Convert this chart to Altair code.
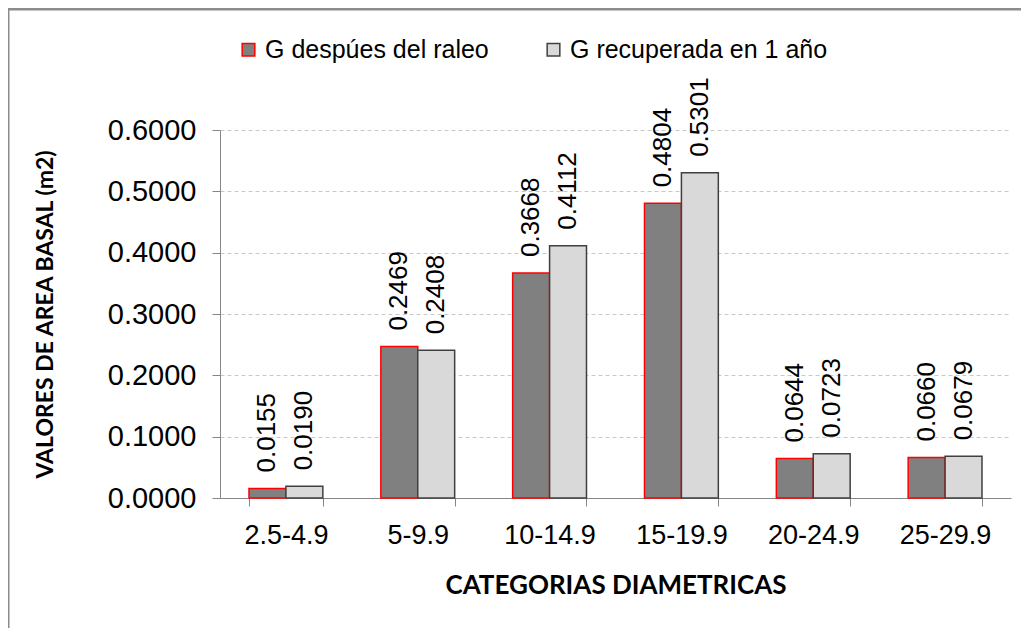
import altair as alt
import pandas as pd

categories = ["2.5-4.9", "5-9.9", "10-14.9", "15-19.9", "20-24.9", "25-29.9"]
series_names = ["G despúes del raleo", "G recuperada en 1 año"]
g_despues = [0.0155, 0.2469, 0.3668, 0.4804, 0.0644, 0.0660]
g_recuperada = [0.0190, 0.2408, 0.4112, 0.5301, 0.0723, 0.0679]

rows = []
for c, a, b in zip(categories, g_despues, g_recuperada):
    rows.append({"cat": c, "serie": series_names[0], "valor": a})
    rows.append({"cat": c, "serie": series_names[1], "valor": b})
df = pd.DataFrame(rows)

FONT = "Liberation Sans"

x_enc = alt.X(
    "cat:N",
    sort=categories,
    scale=alt.Scale(paddingInner=0.44, paddingOuter=0.22),
    axis=alt.Axis(
        title="CATEGORIAS DIAMETRICAS",
        labelAngle=0,
        labelFont=FONT,
        labelFontSize=27,
        labelColor="#000000",
        labelPadding=16,
        tickBand="extent",
        tickSize=8,
        tickColor="#868686",
        domainColor="#868686",
        titleFont="Lato",
        titleFontWeight="bold",
        titleFontSize=26,
        titleColor="#000000",
        titlePadding=24,
    ),
)

y_enc = alt.Y(
    "valor:Q",
    scale=alt.Scale(domain=[0, 0.6], nice=False),
    axis=alt.Axis(
        title="VALORES DE AREA BASAL (m2)",
        values=[0, 0.1, 0.2, 0.3, 0.4, 0.5, 0.6],
        format=".4f",
        labelFont=FONT,
        labelFontSize=29,
        labelColor="#000000",
        labelPadding=16,
        tickSize=8,
        tickColor="#868686",
        domainColor="#868686",
        grid=True,
        gridColor="#c8c8c8",
        gridDash=[4, 3],
        titleFont="Lato",
        titleFontWeight="bold",
        titleFontSize=23,
        titleColor="#000000",
        titlePadding=50,
    ),
)

bars = alt.Chart(df).mark_bar(strokeWidth=1.5).encode(
    x=x_enc,
    xOffset=alt.XOffset("serie:N", sort=series_names),
    y=y_enc,
    fill=alt.Fill(
        "serie:N",
        sort=series_names,
        scale=alt.Scale(domain=series_names, range=["#808080", "#d9d9d9"]),
        legend=alt.Legend(title=None),
    ),
    stroke=alt.Stroke(
        "serie:N",
        sort=series_names,
        scale=alt.Scale(domain=series_names, range=["#ff0000", "#404040"]),
        legend=alt.Legend(title=None),
    ),
)

labels = alt.Chart(df).mark_text(
    angle=270, align="left", baseline="middle", dx=16,
    font=FONT, fontSize=26, color="#000000",
).encode(
    x=alt.X("cat:N", sort=categories),
    xOffset=alt.XOffset("serie:N", sort=series_names),
    y=alt.Y("valor:Q"),
    text=alt.Text("valor:Q", format=".4f"),
)

frame = alt.Chart(pd.DataFrame({"k": [0]})).mark_rect(
    fill="transparent", stroke="#8c8c8c", strokeWidth=3, clip=False
).encode(
    x=alt.value(-212), x2=alt.value(900),
    y=alt.value(-121), y2=alt.value(600),
)

chart = alt.layer(bars, labels, frame).properties(
    width=791, height=368,
    padding={"left": 212, "top": 122, "right": 10, "bottom": 130},
    autosize=alt.AutoSizeParams(type="none"),
    background="#ffffff",
).configure_view(stroke=None).configure_legend(
    orient="none",
    legendX=16,
    legendY=-93,
    direction="horizontal",
    symbolType="square",
    symbolSize=160,
    symbolStrokeWidth=1.5,
    labelFont=FONT,
    labelFontSize=25,
    labelColor="#000000",
    labelLimit=0,
    columnPadding=52,
    symbolOffset=0,
    labelOffset=4,
)

chart.save("out.html", embed_options={"renderer": "svg", "actions": False})
